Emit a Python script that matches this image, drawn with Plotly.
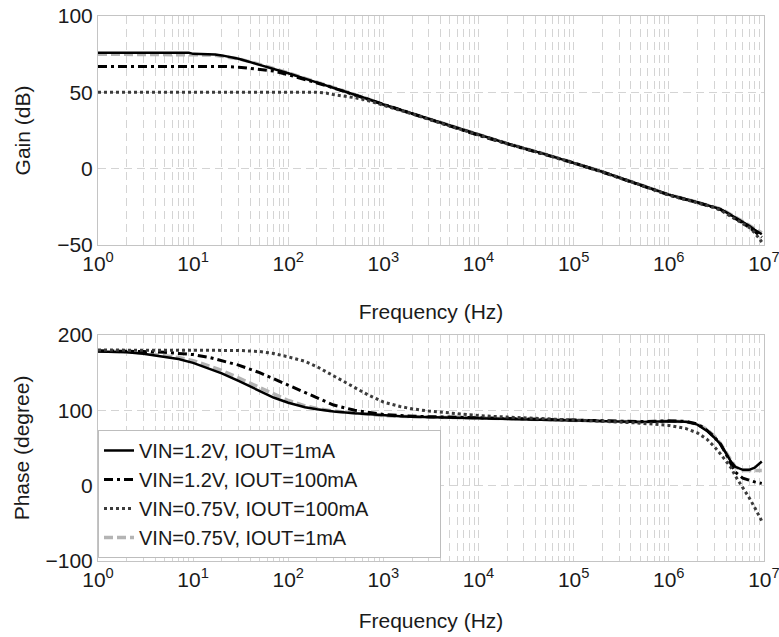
import plotly.graph_objects as go
from plotly.subplots import make_subplots

# ---------------- data ----------------
series_names = [
    "VIN=1.2V, IOUT=1mA",
    "VIN=1.2V, IOUT=100mA",
    "VIN=0.75V, IOUT=100mA",
    "VIN=0.75V, IOUT=1mA",
]

freq_gain = [1, 2, 5, 9, 10, 15, 17, 20, 30, 50, 70, 100, 150, 200, 250, 300, 500, 700,
             1e3, 2e3, 5e3, 1e4, 2e4, 5e4, 1e5, 2e5, 5e5, 1e6, 2e6, 3e6, 3.5e6, 4e6,
             5e6, 6e6, 7e6, 8e6, 9.5e6]

gain_12_1m = [76, 76, 76, 76, 75.2, 75, 74.8, 74.2, 72, 68, 65.5, 62.5, 59, 56.5, 54.5, 53,
              48.5, 45.5, 42, 36, 28, 22, 16.5, 9.5, 4, -2, -10.5, -17, -22, -25, -26.5,
              -28.5, -32, -35, -37.5, -40, -43]
gain_12_100m = [67, 67, 67, 67, 67, 67, 67, 67, 66.5, 65, 64, 61.5, 58.5, 56.3, 54.4, 52.8,
                48.3, 45.3, 41.8, 35.8, 27.8, 21.8, 16.3, 9.3, 3.8, -2.2, -10.7, -17.2,
                -22.2, -25.2, -26.8, -29, -32.5, -35.5, -38.5, -41, -45]
gain_075_100m = [50, 50, 50, 50, 50, 50, 50, 50, 50, 50, 50, 50, 50, 50, 49.5, 48.5,
                 46.5, 44.5, 41.5, 35.9, 27.9, 21.9, 16.4, 9.4, 3.9, -2.1, -10.6, -17.3,
                 -22.4, -25.4, -27.2, -29.5, -33, -36, -38.5, -42, -48]
gain_075_1m = [75, 75, 75, 75, 74.8, 74.5, 74.3, 73.8, 72, 68.3, 65.8, 62.8, 59.2, 56.7,
               54.7, 53.2, 48.7, 45.6, 42, 36, 28, 22, 16.5, 9.5, 4, -2, -10.5, -17, -22,
               -25, -26.3, -28.2, -31.5, -34.5, -37, -39.5, -42]

freq_phase = [1, 2, 3, 5, 7, 10, 15, 20, 30, 50, 70, 100, 150, 200, 300, 500, 700, 1e3,
              1.5e3, 2e3, 3e3, 5e3, 1e4, 2e4, 5e4, 1e5, 2e5, 5e5, 1e6, 1.5e6, 2e6, 2.5e6,
              3e6, 3.5e6, 4e6, 4.5e6, 5e6, 6e6, 7e6, 8e6, 9.5e6]

phase_12_1m = [178, 177, 175, 171, 168, 163, 155, 149, 139, 126, 117, 110, 104, 101.5, 98.5,
               96, 94.5, 93, 92, 91.5, 91, 90.5, 90, 89, 87.5, 86.5, 85.5, 84.5, 85.5, 85,
               81, 73, 64, 55, 43, 32, 25, 21, 21, 24, 32]
phase_12_100m = [179, 179, 178, 177, 176, 174, 170, 166, 160, 150, 142, 133, 123, 116, 107,
                 100, 97, 94.5, 93, 92, 91.5, 91, 90, 89, 87.5, 86.5, 85.5, 85, 86, 85.5,
                 82, 74, 65, 55, 42, 29, 18, 10, 7, 5, 3]
phase_075_100m = [180, 180, 180, 180, 180, 180, 180, 180, 179.5, 178, 175.5, 171, 165, 158,
                  146, 131, 120, 111, 105, 102, 99, 96.5, 93, 91, 89, 87, 85.5, 83, 80,
                  76, 70, 62, 52, 42, 33, 24, 13, -2, -16, -29, -47]
phase_075_1m = [179, 178, 176, 173, 170, 166, 159, 153, 143, 130, 121, 113, 106, 102.5, 99,
                96, 94.5, 93, 92, 91.5, 91, 90.5, 90, 89, 87.5, 86.5, 85.5, 84.5, 85.5,
                85, 81.5, 75, 66, 56, 44, 33, 25, 20, 20, 20, 20]

x_tick_vals = [1, 10, 100, 1e3, 1e4, 1e5, 1e6, 1e7]
x_tick_text = ["10<sup>0</sup>", "10<sup>1</sup>", "10<sup>2</sup>", "10<sup>3</sup>",
               "10<sup>4</sup>", "10<sup>5</sup>", "10<sup>6</sup>", "10<sup>7</sup>"]
gain_ticks = [-50, 0, 50, 100]
phase_ticks = [-100, 0, 100, 200]

# ---------------- styles ----------------
styles = {
    series_names[0]: dict(color="#000000", width=2.5, dash="solid"),
    series_names[1]: dict(color="#000000", width=3, dash="9px,4px,3px,4px"),
    series_names[2]: dict(color="#3c3c3c", width=3, dash="3px,3px"),
    series_names[3]: dict(color="#b4b4b4", width=3.5, dash="9px,4px"),
}
ranks = {series_names[0]: 1, series_names[1]: 2, series_names[2]: 3, series_names[3]: 4}

gain_data = {series_names[0]: gain_12_1m, series_names[1]: gain_12_100m,
             series_names[2]: gain_075_100m, series_names[3]: gain_075_1m}
phase_data = {series_names[0]: phase_12_1m, series_names[1]: phase_12_100m,
              series_names[2]: phase_075_100m, series_names[3]: phase_075_1m}

draw_order = [series_names[3], series_names[0], series_names[1], series_names[2]]

fig = make_subplots(rows=2, cols=1)

for name in draw_order:
    fig.add_trace(go.Scatter(x=freq_gain, y=gain_data[name], mode="lines", name=name,
                             line=styles[name], showlegend=False),
                  row=1, col=1)
for name in draw_order:
    fig.add_trace(go.Scatter(x=freq_phase, y=phase_data[name], mode="lines", name=name,
                             line=styles[name], showlegend=True,
                             legendrank=ranks[name]),
                  row=2, col=1)

font_family = "Liberation Sans, Arial, sans-serif"
txt_col = "#1a1a1a"
grid_col = "#d4d4d4"
frame_col = "#c4c4c4"

xaxis_common = dict(
    type="log", range=[0, 7.001], tickmode="array", tickvals=x_tick_vals, ticktext=x_tick_text,
    ticklabeloverflow="allow", automargin=False,
    showgrid=True, gridcolor=grid_col, griddash="8px,5px", gridwidth=1,
    minor=dict(dtick="D1", showgrid=True, gridcolor=grid_col, griddash="8px,5px",
               gridwidth=1, ticks=""),
    showline=True, linecolor=frame_col, linewidth=1, mirror=True, ticks="",
    zeroline=False, tickfont=dict(size=21, color=txt_col, family=font_family),
)
fig.update_xaxes(**xaxis_common)
fig.update_xaxes(title=dict(text="Frequency (Hz)", font=dict(size=21, color=txt_col,
                                                             family=font_family), standoff=30),
                 row=1, col=1)
fig.update_xaxes(title=dict(text="Frequency (Hz)", font=dict(size=21, color=txt_col,
                                                             family=font_family), standoff=23),
                 row=2, col=1)

yaxis_common = dict(
    automargin=False,
    showgrid=True, gridcolor=grid_col, griddash="8px,5px", gridwidth=1,
    showline=True, linecolor=frame_col, linewidth=1, mirror=True, ticks="",
    zeroline=False, tickfont=dict(size=21, color=txt_col, family=font_family),
)
fig.update_yaxes(**yaxis_common)
fig.update_yaxes(range=[-50, 100], tickmode="array", tickvals=gain_ticks,
                 domain=[0.5798, 1.0],
                 title=dict(text="Gain (dB)", font=dict(size=21, color=txt_col,
                                                        family=font_family), standoff=20),
                 row=1, col=1)
fig.update_yaxes(range=[-100, 200], tickmode="array", tickvals=phase_ticks,
                 domain=[0.0, 0.4147],
                 title=dict(text="Phase (degree)", font=dict(size=21, color=txt_col,
                                                             family=font_family), standoff=10),
                 row=2, col=1)

fig.update_layout(
    width=779, height=637,
    margin=dict(l=98, r=15, t=16, b=76),
    paper_bgcolor="white", plot_bgcolor="white",
    font=dict(family=font_family, color=txt_col),
    legend=dict(x=0.0, y=0.2404, xanchor="left", yanchor="top", xref="paper", yref="paper",
                orientation="h", entrywidth=296, entrywidthmode="pixels",
                bgcolor="white", bordercolor="#bdbdbd", borderwidth=1,
                font=dict(size=20, family=font_family, color=txt_col),
                traceorder="normal"),
)

fig.write_html("out.html")
